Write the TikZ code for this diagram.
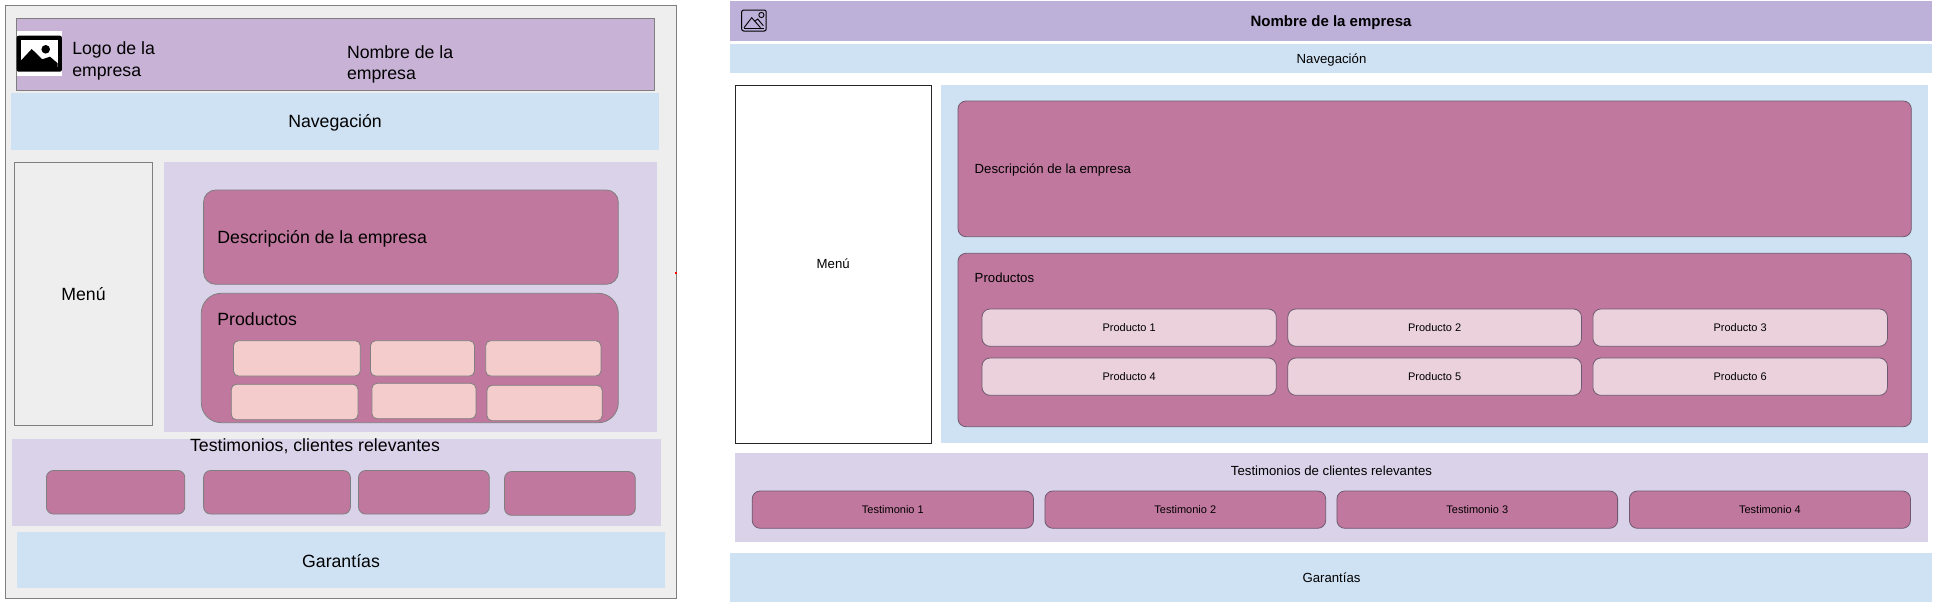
\documentclass[tikz,border=0pt]{standalone}
\usepackage{fontspec}
\setmainfont{Liberation Sans}
\definecolor{frameg}{HTML}{EEEEEE}
\definecolor{grayline}{HTML}{7F7F7F}
\definecolor{headl}{HTML}{C8B2D6}
\definecolor{headr}{HTML}{BDB0D9}
\definecolor{bluef}{HTML}{CFE2F3}
\definecolor{lilac}{HTML}{D9D2E9}
\definecolor{rose}{HTML}{C1789E}
\definecolor{roseline}{HTML}{6E5A70}
\definecolor{blush}{HTML}{F4CCCC}
\definecolor{pale}{HTML}{EAD1DC}
\newcommand{\bx}[6]{% style, name, x1, y1, x2, y2
  \pgfmathsetlengthmacro{\bw}{(#5-#3)*1pt}%
  \pgfmathsetlengthmacro{\bh}{(#6-#4)*1pt}%
  \node[#1,anchor=north west,minimum width=\bw,minimum height=\bh] (#2) at (#3,#4) {};}
\newcommand{\bxt}[7]{% style, name, x1, y1, x2, y2, text
  \pgfmathsetlengthmacro{\bw}{(#5-#3)*1pt}%
  \pgfmathsetlengthmacro{\bh}{(#6-#4)*1pt}%
  \node[#1,anchor=north west,minimum width=\bw,minimum height=\bh] (#2) at (#3,#4) {#7};}
\tikzset{
  box/.style={rectangle,inner sep=0pt,outer sep=0pt},
  big/.style={font=\fontsize{17.7}{21.5}\selectfont},
  mid/.style={font=\fontsize{13.2}{15}\selectfont},
  small/.style={font=\fontsize{11}{13}\selectfont},
  lframe/.style={box,draw=grayline,line width=0.9pt,fill=frameg},
  lhead/.style={box,draw=grayline,line width=0.9pt,fill=headl},
  lmenu/.style={box,draw=grayline,line width=0.9pt,big},
  band/.style={box,fill=bluef},
  lilacband/.style={box,fill=lilac},
  rosebig/.style={box,draw=grayline,line width=0.8pt,fill=rose,rounded corners=12pt},
  roseprod/.style={box,draw=grayline,line width=0.8pt,fill=rose,rounded corners=20pt},
  rosetest/.style={box,draw=grayline,line width=0.8pt,fill=rose,rounded corners=7pt},
  blushbox/.style={box,draw=grayline,line width=0.8pt,fill=blush,rounded corners=5pt},
  rhead/.style={box,fill=headr},
  rmenu/.style={box,draw=black!85,line width=0.85pt,fill=white,mid},
  rrose/.style={box,draw=roseline,line width=0.8pt,fill=rose,rounded corners=8pt},
  rpale/.style={box,draw=roseline,line width=0.8pt,fill=pale,rounded corners=8pt,small},
  rtest/.style={box,draw=roseline,line width=0.8pt,fill=rose,rounded corners=8pt,small},
  txt/.style={inner sep=0pt,outer sep=0pt},
  twoline/.style={txt,big,align=left,anchor=west},
}
\begin{document}
\begin{tikzpicture}[x=1pt,y=-1pt]
\useasboundingbox (0,0) rectangle (1936,608);
\fill[white] (0,0) rectangle (1936,608);
% ---------- left panel ----------
\bx{lframe}{lf}{5.4}{5}{676.3}{598}
\node[box,fill=red,minimum width=2.5pt,minimum height=2.5pt] (dot) at (676,273) {};
\bx{lhead}{lh}{16.5}{18.3}{654}{90}
\node[box,fill=white,anchor=north west,minimum width=45.5pt,minimum height=45pt] (limg) at (16.5,31) {};
\fill[black,rounded corners=2pt] (16.7,35.7) rectangle (61.9,71.7);
\fill[white] (21,40.3) rectangle (57.7,67);
\fill[black] (21,60.5) -- (31.7,49) -- (42.3,59.3) -- (50,56.7) -- (57.7,63.3) -- (57.7,68) -- (21,68) -- cycle;
\fill[black] (45.7,49.3) circle (4.3);
\node[twoline] (logot) at (72.3,60.7) {Logo de la\\empresa};
\node[twoline] (namel) at (347,64.5) {Nombre de la\\empresa};
\bx{band}{ln}{11}{93}{659}{150}
\node[txt,big] (lnt) at (335,123) {Navegación};
\bxt{lmenu}{lm}{14.3}{162.3}{152.7}{425}{Menú}
\bx{lilacband}{lc}{164.3}{162.3}{657}{431.7}
\bx{rosebig}{ld}{203.6}{190}{618.3}{284.3}
\node[txt,big,anchor=west] (ldt) at (217.4,238.7) {Descripción de la empresa};
\bx{roseprod}{lp}{201.3}{293.3}{618.3}{422.7}
\node[txt,big,anchor=west] (lpt) at (217.4,319.3) {Productos};
\bx{blushbox}{lpa}{233.5}{340.7}{360.3}{376}
\bx{blushbox}{lpb}{370.5}{340.7}{474.5}{376}
\bx{blushbox}{lpc}{485.7}{340.7}{600.9}{376}
\bx{blushbox}{lpd}{231.3}{384.3}{358}{419.7}
\bx{blushbox}{lpe}{371.9}{383.3}{475.9}{418.7}
\bx{blushbox}{lpf}{487}{385.3}{602.2}{420.7}
\bx{lilacband}{lt}{11.6}{438.7}{660.7}{526}
\node[txt,big] (ltt) at (315,446.3) {Testimonios, clientes relevantes};
\bx{rosetest}{lta}{46.4}{470.5}{184.8}{514}
\bx{rosetest}{ltb}{203.6}{470.5}{350.4}{514}
\bx{rosetest}{ltc}{358.5}{470.5}{489.3}{514}
\bx{rosetest}{ltd}{504.5}{471.5}{635.3}{515.3}
\bx{band}{lg}{16.5}{532.3}{665}{588.3}
\node[txt,big] (lgt) at (341,561.3) {Garantías};
% ---------- right panel ----------
\bx{rhead}{rh}{729.8}{1}{1932}{41}
\node[txt,font=\fontsize{15}{17}\selectfont\bfseries] (rnt) at (1331,22.5) {Nombre de la empresa};
\draw[black,line width=1pt,rounded corners=2pt] (741.7,10) rectangle (766.2,31);
\draw[black,line width=0.9pt] (761.4,15) circle (2.6);
\draw[black,line width=0.9pt] (744,27.7) -- (751.7,17.7) -- (760.5,27.7);
\draw[black,line width=0.9pt] (755,21) -- (757.7,19) -- (763.3,25.7);
\draw[black,line width=0.9pt] (744,28.3) -- (763.6,28.3);
\bx{band}{rn}{729.8}{44}{1932}{72.7}
\node[txt,mid] (rnl) at (1331.5,60.5) {Navegación};
\bxt{rmenu}{rm}{735}{85}{931.4}{443}{Menú}
\bx{band}{rc}{941.2}{85}{1927.6}{443}
\bx{rrose}{rd}{958}{101}{1911.3}{236.7}
\node[txt,mid,anchor=west] (rdt) at (974.7,170.3) {Descripción de la empresa};
\bx{rrose}{rp}{958}{253.3}{1911.3}{426.7}
\node[txt,mid,anchor=west] (rpt) at (974.7,277.7) {Productos};
\bxt{rpale}{rpa}{982}{309}{1276.3}{346.3}{Producto 1}
\bxt{rpale}{rpb}{1287.8}{309}{1581.5}{346.3}{Producto 2}
\bxt{rpale}{rpc}{1592.9}{309}{1887.4}{346.3}{Producto 3}
\bxt{rpale}{rpd}{982}{358}{1276.3}{395.3}{Producto 4}
\bxt{rpale}{rpe}{1287.8}{358}{1581.5}{395.3}{Producto 5}
\bxt{rpale}{rpf}{1592.9}{358}{1887.4}{395.3}{Producto 6}
\bx{lilacband}{rt}{734.7}{453}{1927.6}{541.7}
\node[txt,mid] (rtt) at (1331.5,470.7) {Testimonios de clientes relevantes};
\bxt{rtest}{rta}{752.2}{491}{1033.5}{528.3}{Testimonio 1}
\bxt{rtest}{rtb}{1044.9}{491}{1325.7}{528.3}{Testimonio 2}
\bxt{rtest}{rtc}{1336.9}{491}{1617.6}{528.3}{Testimonio 3}
\bxt{rtest}{rtd}{1629.4}{491}{1910.5}{528.3}{Testimonio 4}
\bx{band}{rg}{729.8}{553.3}{1932}{601.5}
\node[txt,mid] (rgt) at (1331.5,577.7) {Garantías};
\end{tikzpicture}
\end{document}
